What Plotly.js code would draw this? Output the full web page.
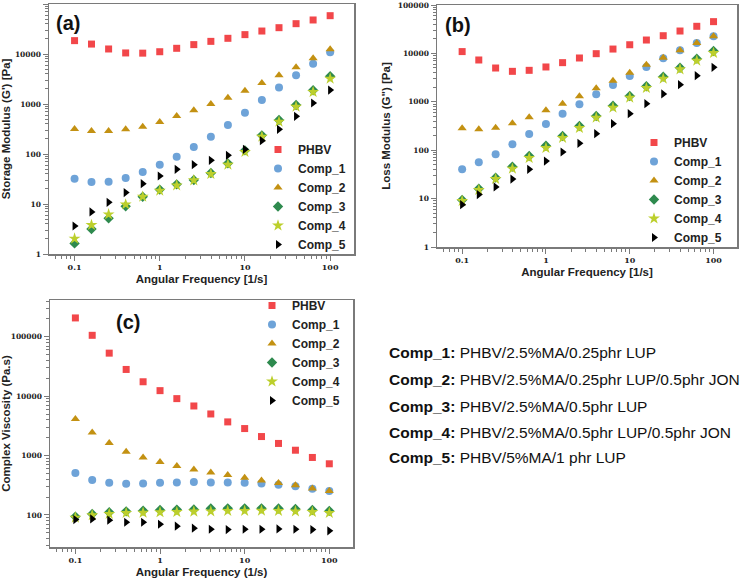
<!DOCTYPE html>
<html>
<head>
<meta charset="utf-8">
<script src="https://cdn.plot.ly/plotly-3.0.1.min.js"></script>
<style>html,body{margin:0;padding:0;background:#fff;}#chart{width:750px;height:580px;}</style>
</head>
<body>
<div id="chart"></div>
<script>
// ---- data ----
const freq = [0.1, 0.158, 0.251, 0.398, 0.631, 1, 1.58, 2.51, 3.98, 6.31, 10, 15.8, 25.1, 39.8, 63.1, 100];
const seriesNames = ['PHBV', 'Comp_1', 'Comp_2', 'Comp_3', 'Comp_4', 'Comp_5'];

// (a) storage modulus G' [Pa]
const gPrime_PHBV  = [18500, 15800, 12600, 10500, 10400, 11100, 13000, 15400, 17900, 20600, 24400, 28800, 33600, 40400, 47900, 58400];
const gPrime_Comp1 = [32.1, 27.5, 28, 33, 43.6, 61, 88, 138, 222, 380, 671, 1200, 2150, 3750, 6400, 10800];
const gPrime_Comp2 = [316, 288, 288, 311, 352, 436, 575, 747, 1000, 1340, 1850, 2630, 3750, 5410, 8190, 12400];
const gPrime_Comp3 = [1.63, 3.16, 5.17, 8.98, 14, 19.4, 24.7, 30.2, 41.7, 65, 118, 236, 479, 955, 1880, 3580];
const gPrime_Comp4 = [2.03, 3.8, 6.2, 9.8, 14, 18.5, 23.6, 29.8, 39.8, 61.2, 110, 222, 443, 884, 1740, 3210];
const gPrime_Comp5 = [3.63, 6.92, 10.8, 16.9, 25.5, 36.3, 49.4, 61.2, 74.7, 94, 124, 185, 311, 567, 1047, 1905];

// (b) loss modulus G'' [Pa]
const gDouble_PHBV  = [10900, 7310, 4990, 4260, 4470, 5240, 6440, 8040, 9870, 12300, 15100, 18900, 23200, 29000, 36300, 45300];
const gDouble_Comp1 = [40.3, 56.1, 82.2, 132, 216, 348, 569, 887, 1430, 2220, 3410, 5240, 7900, 11600, 16400, 22500];
const gDouble_Comp2 = [283, 270, 292, 359, 478, 666, 915, 1300, 1900, 2730, 4000, 5850, 8170, 11600, 16400, 22500];
const gDouble_Comp3 = [9.35, 16, 27.1, 45.7, 75.9, 124, 196, 316, 509, 832, 1320, 2090, 3310, 5070, 7790, 11200];
const gDouble_Comp4 = [8.92, 15.1, 25.4, 41.5, 69, 111, 179, 288, 470, 757, 1220, 1930, 3010, 4690, 7080, 10200];
const gDouble_Comp5 = [7.5, 12.1, 17.4, 25.4, 40.3, 59.8, 91.8, 139, 220, 353, 569, 915, 1450, 2260, 3470, 5150];

// (c) complex viscosity [Pa.s]
const eta_PHBV  = [208000, 106000, 53100, 28200, 17500, 12400, 9100, 6840, 5020, 3690, 2850, 2090, 1600, 1230, 929, 727];
const eta_Comp1 = [507, 387, 349, 336, 340, 349, 353, 358, 353, 353, 349, 340, 323, 303, 277, 253];
const eta_Comp2 = [4140, 2440, 1620, 1160, 929, 776, 665, 584, 520, 470, 424, 382, 344, 315, 280, 253];
const eta_Comp3 = [93.8, 104, 111, 115, 118, 121, 123, 124, 128, 129, 129, 129, 128, 126, 121, 117];
const eta_Comp4 = [90.2, 98.7, 104, 108, 109, 111, 112, 114, 115, 117, 117, 118, 117, 115, 112, 108];
const eta_Comp5 = [83.5, 85.7, 81.4, 75.3, 75.3, 69.7, 64.5, 59.7, 57.4, 56.7, 57.4, 57.4, 58.2, 57.4, 56.7, 53.9];

// tick labels
const xTickVals = [0.1, 1, 10, 100];
const xTickText = ['0.1', '1', '10', '100'];
const yTickValsAB = [1, 10, 100, 1000, 10000, 100000];
const yTickTextAB = ['1', '10', '100', '1000', '10000', '100000'];
const yTickValsC = [100, 1000, 10000, 100000];
const yTickTextC = ['100', '1000', '10000', '100000'];

// composition notes
const compLabels = ['Comp_1:', 'Comp_2:', 'Comp_3:', 'Comp_4:', 'Comp_5:'];
const compDesc = ['PHBV/2.5%MA/0.25phr LUP', 'PHBV/2.5%MA/0.25phr LUP/0.5phr JON', 'PHBV/2.5%MA/0.5phr LUP', 'PHBV/2.5%MA/0.5phr LUP/0.5phr JON', 'PHBV/5%MA/1 phr LUP'];

// ---- styling ----
const colors = ['#f2474a', '#6ea3d8', '#c39112', '#2e8a4e', '#bccf2c', '#000000'];
const symbols = ['square', 'circle', 'triangle-up', 'diamond', 'star', 'triangle-right'];
const sizes = [7, 8, 8, 8, 9, 8];

const panelData = [
  [gPrime_PHBV, gPrime_Comp1, gPrime_Comp2, gPrime_Comp3, gPrime_Comp4, gPrime_Comp5],
  [gDouble_PHBV, gDouble_Comp1, gDouble_Comp2, gDouble_Comp3, gDouble_Comp4, gDouble_Comp5],
  [eta_PHBV, eta_Comp1, eta_Comp2, eta_Comp3, eta_Comp4, eta_Comp5]
];
const axIds = [['x', 'y', 'legend'], ['x2', 'y2', 'legend2'], ['x3', 'y3', 'legend3']];

const traces = [];
panelData.forEach((set, p) => {
  set.forEach((ys, i) => {
    traces.push({
      type: 'scatter', mode: 'markers',
      x: freq, y: ys, name: seriesNames[i],
      xaxis: axIds[p][0], yaxis: axIds[p][1], legend: axIds[p][2],
      marker: {symbol: symbols[i], size: sizes[i], color: colors[i], line: {width: 0}},
      cliponaxis: false
    });
  });
});

const axisLine = '#7a7a7a';
const titleFont = {family: 'Liberation Sans, Arial', size: 11.5, color: '#222', weight: 'bold'};
function xAx(domain, anchor, titleText) {
  return {
    type: 'log', domain: domain, anchor: anchor, range: [-1.3, 2.28],
    showline: true, linecolor: axisLine, linewidth: 1.5, mirror: true,
    ticks: 'outside', ticklen: 5, tickwidth: 1, tickcolor: axisLine,
    tickmode: 'array', tickvals: xTickVals, ticktext: xTickText,
    minor: {ticks: 'outside', ticklen: 3, tickcolor: axisLine, dtick: 'D1', showgrid: false},
    showgrid: false, zeroline: false,
    tickfont: {family: 'DejaVu Serif', size: 8, color: '#222', weight: 'bold'},
    title: {text: titleText, font: titleFont, standoff: 4}
  };
}
function yAx(domain, anchor, range, tv, tt, titleText) {
  return {
    type: 'log', domain: domain, anchor: anchor, range: range,
    showline: true, linecolor: axisLine, linewidth: 1.5, mirror: true,
    ticks: 'outside', ticklen: 5, tickwidth: 1, tickcolor: axisLine,
    tickmode: 'array', tickvals: tv, ticktext: tt,
    minor: {ticks: 'outside', ticklen: 3, tickcolor: axisLine, dtick: 'D1', showgrid: false},
    showgrid: false, zeroline: false,
    tickfont: {family: 'DejaVu Serif', size: 7.5, color: '#222', weight: 'bold'},
    title: {text: titleText, font: titleFont, standoff: 4}
  };
}
const legendBase = {
  font: {family: 'Liberation Sans, Arial', size: 12, color: '#222', weight: 'bold'},
  bgcolor: 'rgba(0,0,0,0)', borderwidth: 0, xanchor: 'left', yanchor: 'top', tracegroupgap: 0, itemwidth: 30
};

const annotations = [
  {text: '<b>(a)</b>', x: 68 / 750, y: 1 - 23 / 580},
  {text: '<b>(b)</b>', x: 458 / 750, y: 1 - 25 / 580},
  {text: '<b>(c)</b>', x: 128 / 750, y: 1 - 322 / 580}
].map(a => Object.assign(a, {xref: 'paper', yref: 'paper', showarrow: false, xanchor: 'center', yanchor: 'middle',
  font: {family: 'Liberation Sans, Arial', size: 20, color: '#111'}}));

const noteY = [352, 379, 406, 432, 457];
compLabels.forEach((lab, i) => {
  annotations.push({
    text: '<b>' + lab + '</b> ' + compDesc[i],
    xref: 'paper', yref: 'paper', x: 387 / 750, y: 1 - noteY[i] / 580,
    xanchor: 'left', yanchor: 'middle', showarrow: false,
    font: {family: 'Liberation Sans, Arial', size: 15.5, color: '#111'}
  });
});

const layout = {
  width: 750, height: 580,
  margin: {l: 0, r: 0, t: 0, b: 0},
  paper_bgcolor: '#ffffff', plot_bgcolor: '#ffffff',
  showlegend: true,
  xaxis: xAx([49 / 750, 354 / 750], 'y', 'Angular Frequency [1/s]'),
  yaxis: yAx([1 - 254 / 580, 1 - 4 / 580], 'x', [0, 5], yTickValsAB, yTickTextAB, "Storage Modulus (G') [Pa]"),
  xaxis2: xAx([437 / 750, 737 / 750], 'y2', 'Angular Frequency [1/s]'),
  yaxis2: yAx([1 - 247 / 580, 1 - 5 / 580], 'x2', [0, 5], yTickValsAB, yTickTextAB, 'Loss Modulus (G") [Pa]'),
  xaxis3: xAx([50 / 750, 353 / 750], 'y3', 'Angular Frequency (1/s)'),
  yaxis3: yAx([1 - 547 / 580, 1 - 300 / 580], 'x3', [1.46, 5.62], yTickValsC, yTickTextC, 'Complex Viscosity (Pa.s)'),
  legend: Object.assign({}, legendBase, {x: 258 / 750, y: 1 - 135 / 580}),
  legend2: Object.assign({}, legendBase, {x: 634 / 750, y: 1 - 128 / 580}),
  legend3: Object.assign({}, legendBase, {x: 252 / 750, y: 1 - 291 / 580}),
  annotations: annotations
};

Plotly.newPlot('chart', traces, layout, {displayModeBar: false, staticPlot: true});
</script>
</body>
</html>
